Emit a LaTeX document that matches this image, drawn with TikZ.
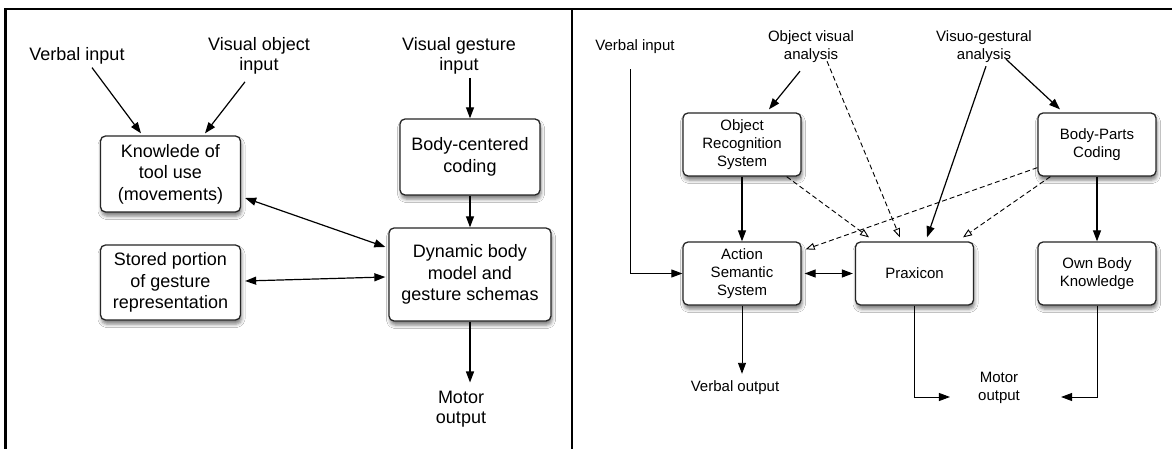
\documentclass[tikz,border=0pt]{standalone}
\usepackage{fontspec}
\setmainfont{Liberation Sans}
\usetikzlibrary{arrows.meta,calc,shadows.blur}
\tikzset{
  lbox/.style={draw=black!85, line width=1.3pt, rounded corners=5pt, fill=white, align=center,
    inner sep=0pt, font=\fontsize{18}{21.5}\selectfont,
    blur shadow={shadow xshift=1pt, shadow yshift=-4pt, shadow blur radius=3.5pt, shadow opacity=50}},
  rbox/.style={lbox, font=\fontsize{15}{18}\selectfont},
  ltxt/.style={align=center, inner sep=1pt, font=\fontsize{18}{20.5}\selectfont},
  rtxt/.style={align=center, inner sep=1pt, font=\fontsize{15}{18}\selectfont},
  arr/.style={line width=1.2pt, -{Triangle[length=11pt,width=8pt]}},
  darr/.style={line width=1.2pt, {Triangle[length=11pt,width=8pt]}-{Triangle[length=11pt,width=8pt]}},
  oarr/.style={line width=0.9pt, dashed, dash pattern=on 5pt off 3pt, -{Triangle[open,length=9pt,width=7pt,line width=0.9pt]}},
  frame/.style={line width=2.6pt, black}
}
\begin{document}
\begin{tikzpicture}[x=1pt,y=-1pt]
\useasboundingbox (0,0) rectangle (1172,449);
\fill[white] (0,0) rectangle (1172,449);
% frame
\draw[frame] (5.5,449) -- (5.5,9) -- (1172,9);
\draw[frame] (572,9) -- (572,449);

% ---------------- left panel ----------------
\node[ltxt] (vin1) at (77,56) {Verbal input};
\node[ltxt] (voi) at (259,56) {Visual object\\input};
\node[ltxt] (vgi) at (459,56) {Visual gesture\\input};
\node[lbox, minimum width=140pt, minimum height=76pt] (know) at (170.5,174) {Knowlede of\\tool use\\(movements)};
\node[lbox, minimum width=140pt, minimum height=75pt] (stored) at (170.5,282.5) {Stored portion\\of gesture\\representation};
\node[lbox, minimum width=140pt, minimum height=76pt] (body) at (470,157) {Body-centered\\coding};
\node[lbox, minimum width=162pt, minimum height=93pt] (dyn) at (470,274.5) {Dynamic body\\model and\\gesture schemas};
\node[ltxt] (motor) at (461,409) {Motor\\output};

\draw[arr] ([xshift=15pt,yshift=-2pt]vin1.south) -- ([xshift=-29.5pt,yshift=2pt]know.north);
\draw[arr] ([xshift=-14pt,yshift=-6pt]voi.south) -- ([xshift=34.5pt,yshift=2pt]know.north);
\draw[arr] ([xshift=11pt,yshift=-2pt]vgi.south) -- (body.north);
\draw[arr] (body.south) -- (dyn.north);
\draw[darr] ([xshift=4pt,yshift=-24pt]know.east) -- ([xshift=-3pt,yshift=27.5pt]dyn.west);
\draw[darr] ([xshift=4pt,yshift=1.5pt]stored.east) -- ([xshift=-3pt,yshift=-2.5pt]dyn.west);
\draw[arr] (dyn.south) -- ([xshift=9pt,yshift=7pt]motor.north);

% ---------------- right panel ----------------
\node[rtxt] (vin2) at (635,47) {Verbal input};
\node[rtxt] (ova) at (811,47) {Object visual\\analysis};
\node[rtxt] (vga) at (984,47) {Visuo-gestural\\analysis};
\node[rbox, minimum width=118pt, minimum height=63pt] (ors) at (742,144.5) {Object\\Recognition\\System};
\node[rbox, minimum width=118pt, minimum height=63pt] (bpc) at (1097,144.5) {Body-Parts\\Coding};
\node[rbox, minimum width=118pt, minimum height=63pt] (ass) at (742,273.5) {Action\\Semantic\\System};
\node[rbox, minimum width=118pt, minimum height=63pt] (prax) at (914.5,273.5) {Praxicon};
\node[rbox, minimum width=118pt, minimum height=63pt] (obk) at (1097,273.5) {Own Body\\Knowledge};
\node[rtxt] (vout) at (735,388) {Verbal output};
\node[rtxt] (mout) at (999,388) {Motor\\output};

\draw[arr, line width=0.9pt] ([xshift=-5pt,yshift=-14pt]vin2.south) |- (ass.west);
\draw[arr] ([xshift=-11pt,yshift=-7pt]ova.south) -- ([xshift=27pt,yshift=3pt]ors.north);
\draw[oarr] ([xshift=16pt,yshift=3pt]ova.south) -- ([xshift=-14.5pt,yshift=4pt]prax.north);
\draw[arr] ([xshift=2pt,yshift=-2pt]vga.south) -- ([xshift=12.5pt,yshift=4pt]prax.north);
\draw[arr] ([xshift=22pt,yshift=5pt]vga.south) -- ([xshift=-37pt,yshift=3pt]bpc.north);
\draw[arr] (ors.south) -- (ass.north);
\draw[oarr] ([xshift=-15pt]ors.south east) -- ([xshift=-45.5pt,yshift=4pt]prax.north);
\draw[oarr] ([yshift=9pt]bpc.south west) -- ([xshift=4pt,yshift=-8pt]ass.north east);
\draw[oarr] ([xshift=13pt]bpc.south west) -- ([xshift=48.5pt,yshift=4pt]prax.north);
\draw[darr] ([xshift=3pt]ass.east) -- ([xshift=-2pt]prax.west);
\draw[arr] (bpc.south) -- (obk.north);
\draw[arr, line width=0.9pt] (ass.south) -- ([xshift=7pt,yshift=6pt]vout.north);
\draw[arr, line width=0.9pt] (prax.south) |- ([xshift=-27pt,yshift=-9pt]mout.west);
\draw[arr, line width=0.9pt] (obk.south) |- ([xshift=40pt,yshift=-9pt]mout.east);
\end{tikzpicture}
\end{document}
